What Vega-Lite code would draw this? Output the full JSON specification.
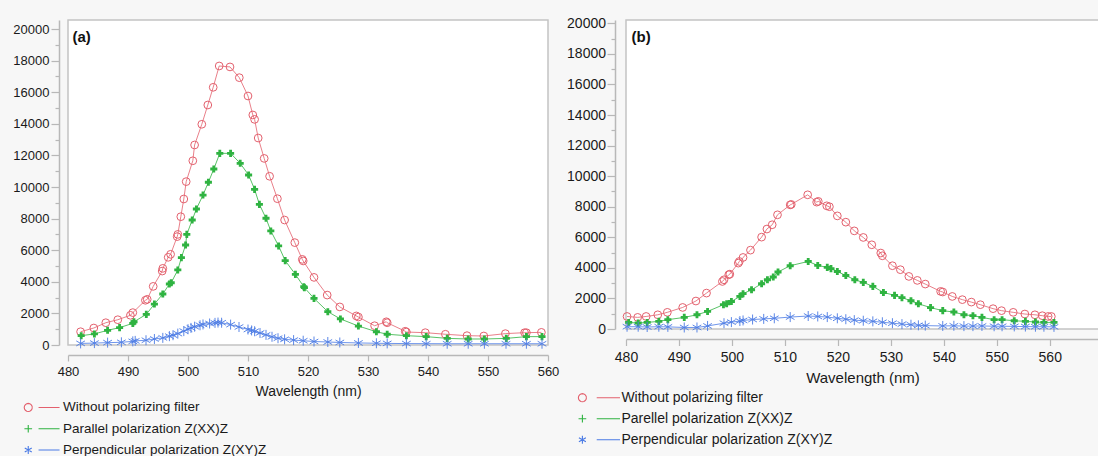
{
  "$schema": "https://vega.github.io/schema/vega-lite/v6.json",
  "background": "#f7f7f7",
  "padding": {"left": 12, "top": 15, "right": 0, "bottom": 0},
  "autosize": {"type": "pad"},
  "config": {
    "font": "Liberation Sans",
    "view": {"fill": "white", "stroke": "#c4c4c4", "strokeWidth": 1.5},
    "axis": {"grid": false, "domainColor": "#b8b8b8", "domainWidth": 1.5, "tickColor": "#b8b8b8", "tickWidth": 1.2, "labelColor": "#1a1a1a", "titleColor": "#1a1a1a", "titleFontWeight": "normal", "labelFont": "Liberation Sans", "titleFont": "Liberation Sans", "labelFlush": false, "labelOverlap": false}
  },
  "spacing": 78,
  "bounds": "flush",
  "resolve": {"scale": {"color": "independent", "shape": "independent", "x": "independent", "y": "independent"}, "legend": {"color": "independent", "shape": "independent"}},
  "datasets": {
    "a": [
      {"s": "Without polarizing filter", "w": 482.1, "i": 840},
      {"s": "Without polarizing filter", "w": 484.3, "i": 1075},
      {"s": "Without polarizing filter", "w": 486.3, "i": 1410},
      {"s": "Without polarizing filter", "w": 488.3, "i": 1600},
      {"s": "Without polarizing filter", "w": 490.4, "i": 1880},
      {"s": "Without polarizing filter", "w": 490.8, "i": 2050},
      {"s": "Without polarizing filter", "w": 492.9, "i": 2830},
      {"s": "Without polarizing filter", "w": 493.2, "i": 2890},
      {"s": "Without polarizing filter", "w": 494.2, "i": 3710},
      {"s": "Without polarizing filter", "w": 495.7, "i": 4680},
      {"s": "Without polarizing filter", "w": 495.8, "i": 4850},
      {"s": "Without polarizing filter", "w": 496.7, "i": 5550},
      {"s": "Without polarizing filter", "w": 497.1, "i": 5740},
      {"s": "Without polarizing filter", "w": 498.2, "i": 6860},
      {"s": "Without polarizing filter", "w": 498.3, "i": 7000},
      {"s": "Without polarizing filter", "w": 498.8, "i": 8120},
      {"s": "Without polarizing filter", "w": 499.3, "i": 9240},
      {"s": "Without polarizing filter", "w": 499.7, "i": 10340},
      {"s": "Without polarizing filter", "w": 500.8, "i": 11660},
      {"s": "Without polarizing filter", "w": 501.1, "i": 12660},
      {"s": "Without polarizing filter", "w": 502.3, "i": 13970},
      {"s": "Without polarizing filter", "w": 503.3, "i": 15190},
      {"s": "Without polarizing filter", "w": 504.2, "i": 16310},
      {"s": "Without polarizing filter", "w": 505.2, "i": 17660},
      {"s": "Without polarizing filter", "w": 507.0, "i": 17600},
      {"s": "Without polarizing filter", "w": 508.55, "i": 16920},
      {"s": "Without polarizing filter", "w": 510.0, "i": 15760},
      {"s": "Without polarizing filter", "w": 510.8, "i": 14560},
      {"s": "Without polarizing filter", "w": 511.1, "i": 14280},
      {"s": "Without polarizing filter", "w": 511.7, "i": 13100},
      {"s": "Without polarizing filter", "w": 512.7, "i": 11810},
      {"s": "Without polarizing filter", "w": 513.6, "i": 10680},
      {"s": "Without polarizing filter", "w": 514.9, "i": 9260},
      {"s": "Without polarizing filter", "w": 516.1, "i": 7910},
      {"s": "Without polarizing filter", "w": 517.8, "i": 6480},
      {"s": "Without polarizing filter", "w": 519.05, "i": 5420},
      {"s": "Without polarizing filter", "w": 519.2, "i": 5320},
      {"s": "Without polarizing filter", "w": 521.0, "i": 4280},
      {"s": "Without polarizing filter", "w": 523.2, "i": 3160},
      {"s": "Without polarizing filter", "w": 525.3, "i": 2410},
      {"s": "Without polarizing filter", "w": 528.05, "i": 1840},
      {"s": "Without polarizing filter", "w": 528.4, "i": 1770},
      {"s": "Without polarizing filter", "w": 531.1, "i": 1220},
      {"s": "Without polarizing filter", "w": 533.05, "i": 1470},
      {"s": "Without polarizing filter", "w": 533.2, "i": 1410},
      {"s": "Without polarizing filter", "w": 536.2, "i": 870},
      {"s": "Without polarizing filter", "w": 536.4, "i": 820},
      {"s": "Without polarizing filter", "w": 539.55, "i": 780},
      {"s": "Without polarizing filter", "w": 542.9, "i": 680},
      {"s": "Without polarizing filter", "w": 546.5, "i": 590},
      {"s": "Without polarizing filter", "w": 549.3, "i": 570},
      {"s": "Without polarizing filter", "w": 552.9, "i": 720},
      {"s": "Without polarizing filter", "w": 556.1, "i": 780},
      {"s": "Without polarizing filter", "w": 556.4, "i": 780},
      {"s": "Without polarizing filter", "w": 558.9, "i": 800},
      {"s": "Parallel polarization Z(XX)Z", "w": 482.2, "i": 590},
      {"s": "Parallel polarization Z(XX)Z", "w": 484.4, "i": 700},
      {"s": "Parallel polarization Z(XX)Z", "w": 486.6, "i": 930},
      {"s": "Parallel polarization Z(XX)Z", "w": 488.6, "i": 1100},
      {"s": "Parallel polarization Z(XX)Z", "w": 490.8, "i": 1370},
      {"s": "Parallel polarization Z(XX)Z", "w": 491.0, "i": 1470},
      {"s": "Parallel polarization Z(XX)Z", "w": 493.05, "i": 1940},
      {"s": "Parallel polarization Z(XX)Z", "w": 494.4, "i": 2590},
      {"s": "Parallel polarization Z(XX)Z", "w": 495.8, "i": 3230},
      {"s": "Parallel polarization Z(XX)Z", "w": 496.9, "i": 3860},
      {"s": "Parallel polarization Z(XX)Z", "w": 497.2, "i": 3940},
      {"s": "Parallel polarization Z(XX)Z", "w": 498.3, "i": 4750},
      {"s": "Parallel polarization Z(XX)Z", "w": 498.9, "i": 5530},
      {"s": "Parallel polarization Z(XX)Z", "w": 499.6, "i": 6330},
      {"s": "Parallel polarization Z(XX)Z", "w": 499.8, "i": 7000},
      {"s": "Parallel polarization Z(XX)Z", "w": 500.7, "i": 7910},
      {"s": "Parallel polarization Z(XX)Z", "w": 501.4, "i": 8610},
      {"s": "Parallel polarization Z(XX)Z", "w": 502.5, "i": 9490},
      {"s": "Parallel polarization Z(XX)Z", "w": 503.4, "i": 10300},
      {"s": "Parallel polarization Z(XX)Z", "w": 504.3, "i": 11140},
      {"s": "Parallel polarization Z(XX)Z", "w": 505.3, "i": 12130},
      {"s": "Parallel polarization Z(XX)Z", "w": 507.1, "i": 12130},
      {"s": "Parallel polarization Z(XX)Z", "w": 508.7, "i": 11500},
      {"s": "Parallel polarization Z(XX)Z", "w": 510.1, "i": 10760},
      {"s": "Parallel polarization Z(XX)Z", "w": 511.1, "i": 9850},
      {"s": "Parallel polarization Z(XX)Z", "w": 511.9, "i": 8900},
      {"s": "Parallel polarization Z(XX)Z", "w": 513.0, "i": 8020},
      {"s": "Parallel polarization Z(XX)Z", "w": 513.8, "i": 7220},
      {"s": "Parallel polarization Z(XX)Z", "w": 515.1, "i": 6270},
      {"s": "Parallel polarization Z(XX)Z", "w": 516.2, "i": 5340},
      {"s": "Parallel polarization Z(XX)Z", "w": 517.9, "i": 4470},
      {"s": "Parallel polarization Z(XX)Z", "w": 519.3, "i": 3690},
      {"s": "Parallel polarization Z(XX)Z", "w": 519.4, "i": 3630},
      {"s": "Parallel polarization Z(XX)Z", "w": 521.0, "i": 2950},
      {"s": "Parallel polarization Z(XX)Z", "w": 523.3, "i": 2110},
      {"s": "Parallel polarization Z(XX)Z", "w": 525.4, "i": 1650},
      {"s": "Parallel polarization Z(XX)Z", "w": 528.4, "i": 1200},
      {"s": "Parallel polarization Z(XX)Z", "w": 531.4, "i": 840},
      {"s": "Parallel polarization Z(XX)Z", "w": 533.2, "i": 680},
      {"s": "Parallel polarization Z(XX)Z", "w": 536.4, "i": 590},
      {"s": "Parallel polarization Z(XX)Z", "w": 539.7, "i": 530},
      {"s": "Parallel polarization Z(XX)Z", "w": 543.2, "i": 420},
      {"s": "Parallel polarization Z(XX)Z", "w": 546.7, "i": 380},
      {"s": "Parallel polarization Z(XX)Z", "w": 549.4, "i": 380},
      {"s": "Parallel polarization Z(XX)Z", "w": 553.05, "i": 420},
      {"s": "Parallel polarization Z(XX)Z", "w": 556.4, "i": 530},
      {"s": "Parallel polarization Z(XX)Z", "w": 559.0, "i": 530},
      {"s": "Perpendicular polarization  Z(XY)Z", "w": 482.1, "i": 100},
      {"s": "Perpendicular polarization  Z(XY)Z", "w": 484.4, "i": 120},
      {"s": "Perpendicular polarization  Z(XY)Z", "w": 486.6, "i": 150},
      {"s": "Perpendicular polarization  Z(XY)Z", "w": 488.9, "i": 170},
      {"s": "Perpendicular polarization  Z(XY)Z", "w": 490.8, "i": 230},
      {"s": "Perpendicular polarization  Z(XY)Z", "w": 491.2, "i": 260},
      {"s": "Perpendicular polarization  Z(XY)Z", "w": 493.0, "i": 300},
      {"s": "Perpendicular polarization  Z(XY)Z", "w": 494.4, "i": 380},
      {"s": "Perpendicular polarization  Z(XY)Z", "w": 495.8, "i": 450},
      {"s": "Perpendicular polarization  Z(XY)Z", "w": 496.9, "i": 560},
      {"s": "Perpendicular polarization  Z(XY)Z", "w": 497.5, "i": 620},
      {"s": "Perpendicular polarization  Z(XY)Z", "w": 498.3, "i": 720},
      {"s": "Perpendicular polarization  Z(XY)Z", "w": 499.3, "i": 880},
      {"s": "Perpendicular polarization  Z(XY)Z", "w": 500.0, "i": 1000},
      {"s": "Perpendicular polarization  Z(XY)Z", "w": 500.5, "i": 1080},
      {"s": "Perpendicular polarization  Z(XY)Z", "w": 501.1, "i": 1160},
      {"s": "Perpendicular polarization  Z(XY)Z", "w": 502.0, "i": 1250},
      {"s": "Perpendicular polarization  Z(XY)Z", "w": 502.5, "i": 1300},
      {"s": "Perpendicular polarization  Z(XY)Z", "w": 503.6, "i": 1360},
      {"s": "Perpendicular polarization  Z(XY)Z", "w": 504.5, "i": 1400},
      {"s": "Perpendicular polarization  Z(XY)Z", "w": 505.0, "i": 1420},
      {"s": "Perpendicular polarization  Z(XY)Z", "w": 505.6, "i": 1410},
      {"s": "Perpendicular polarization  Z(XY)Z", "w": 507.1, "i": 1290},
      {"s": "Perpendicular polarization  Z(XY)Z", "w": 508.5, "i": 1140},
      {"s": "Perpendicular polarization  Z(XY)Z", "w": 510.0, "i": 980},
      {"s": "Perpendicular polarization  Z(XY)Z", "w": 510.6, "i": 920},
      {"s": "Perpendicular polarization  Z(XY)Z", "w": 511.1, "i": 870},
      {"s": "Perpendicular polarization  Z(XY)Z", "w": 512.0, "i": 760},
      {"s": "Perpendicular polarization  Z(XY)Z", "w": 513.0, "i": 640},
      {"s": "Perpendicular polarization  Z(XY)Z", "w": 514.0, "i": 520},
      {"s": "Perpendicular polarization  Z(XY)Z", "w": 515.0, "i": 430},
      {"s": "Perpendicular polarization  Z(XY)Z", "w": 516.1, "i": 360},
      {"s": "Perpendicular polarization  Z(XY)Z", "w": 517.6, "i": 310},
      {"s": "Perpendicular polarization  Z(XY)Z", "w": 519.2, "i": 270},
      {"s": "Perpendicular polarization  Z(XY)Z", "w": 521.0, "i": 220},
      {"s": "Perpendicular polarization  Z(XY)Z", "w": 523.3, "i": 190},
      {"s": "Perpendicular polarization  Z(XY)Z", "w": 525.3, "i": 160},
      {"s": "Perpendicular polarization  Z(XY)Z", "w": 528.4, "i": 130},
      {"s": "Perpendicular polarization  Z(XY)Z", "w": 531.4, "i": 110},
      {"s": "Perpendicular polarization  Z(XY)Z", "w": 533.2, "i": 100},
      {"s": "Perpendicular polarization  Z(XY)Z", "w": 536.4, "i": 90},
      {"s": "Perpendicular polarization  Z(XY)Z", "w": 539.7, "i": 85},
      {"s": "Perpendicular polarization  Z(XY)Z", "w": 543.2, "i": 80},
      {"s": "Perpendicular polarization  Z(XY)Z", "w": 546.7, "i": 80},
      {"s": "Perpendicular polarization  Z(XY)Z", "w": 549.4, "i": 80},
      {"s": "Perpendicular polarization  Z(XY)Z", "w": 553.0, "i": 80},
      {"s": "Perpendicular polarization  Z(XY)Z", "w": 556.4, "i": 80},
      {"s": "Perpendicular polarization  Z(XY)Z", "w": 559.0, "i": 80}
    ],
    "b": [
      {"s": "Without polarizing filter", "w": 480.2, "i": 820},
      {"s": "Without polarizing filter", "w": 482.2, "i": 760},
      {"s": "Without polarizing filter", "w": 483.8, "i": 820},
      {"s": "Without polarizing filter", "w": 486.0, "i": 930},
      {"s": "Without polarizing filter", "w": 487.8, "i": 1090},
      {"s": "Without polarizing filter", "w": 490.7, "i": 1410},
      {"s": "Without polarizing filter", "w": 493.2, "i": 1830},
      {"s": "Without polarizing filter", "w": 495.2, "i": 2350},
      {"s": "Without polarizing filter", "w": 498.2, "i": 3110},
      {"s": "Without polarizing filter", "w": 498.5, "i": 3220},
      {"s": "Without polarizing filter", "w": 499.4, "i": 3550},
      {"s": "Without polarizing filter", "w": 499.6, "i": 3590},
      {"s": "Without polarizing filter", "w": 501.2, "i": 4310},
      {"s": "Without polarizing filter", "w": 501.4, "i": 4420},
      {"s": "Without polarizing filter", "w": 502.1, "i": 4680},
      {"s": "Without polarizing filter", "w": 503.5, "i": 5160},
      {"s": "Without polarizing filter", "w": 505.6, "i": 6010},
      {"s": "Without polarizing filter", "w": 506.6, "i": 6540},
      {"s": "Without polarizing filter", "w": 507.6, "i": 6820},
      {"s": "Without polarizing filter", "w": 508.6, "i": 7470},
      {"s": "Without polarizing filter", "w": 511.0, "i": 8120},
      {"s": "Without polarizing filter", "w": 511.2, "i": 8150},
      {"s": "Without polarizing filter", "w": 514.3, "i": 8780},
      {"s": "Without polarizing filter", "w": 516.0, "i": 8300},
      {"s": "Without polarizing filter", "w": 516.3, "i": 8350},
      {"s": "Without polarizing filter", "w": 517.9, "i": 8060},
      {"s": "Without polarizing filter", "w": 518.4, "i": 8000},
      {"s": "Without polarizing filter", "w": 519.9, "i": 7400},
      {"s": "Without polarizing filter", "w": 521.5, "i": 6990},
      {"s": "Without polarizing filter", "w": 523.1, "i": 6420},
      {"s": "Without polarizing filter", "w": 524.8, "i": 5990},
      {"s": "Without polarizing filter", "w": 526.4, "i": 5510},
      {"s": "Without polarizing filter", "w": 528.1, "i": 4970},
      {"s": "Without polarizing filter", "w": 528.4, "i": 4790},
      {"s": "Without polarizing filter", "w": 530.3, "i": 4140},
      {"s": "Without polarizing filter", "w": 531.8, "i": 3880},
      {"s": "Without polarizing filter", "w": 533.4, "i": 3440},
      {"s": "Without polarizing filter", "w": 535.0, "i": 3180},
      {"s": "Without polarizing filter", "w": 536.5, "i": 2940},
      {"s": "Without polarizing filter", "w": 539.4, "i": 2460},
      {"s": "Without polarizing filter", "w": 539.8, "i": 2420},
      {"s": "Without polarizing filter", "w": 541.6, "i": 2130},
      {"s": "Without polarizing filter", "w": 543.5, "i": 1920},
      {"s": "Without polarizing filter", "w": 545.2, "i": 1760},
      {"s": "Without polarizing filter", "w": 546.9, "i": 1590},
      {"s": "Without polarizing filter", "w": 549.3, "i": 1330},
      {"s": "Without polarizing filter", "w": 550.9, "i": 1200},
      {"s": "Without polarizing filter", "w": 553.1, "i": 1090},
      {"s": "Without polarizing filter", "w": 555.3, "i": 980},
      {"s": "Without polarizing filter", "w": 557.2, "i": 930},
      {"s": "Without polarizing filter", "w": 558.6, "i": 870},
      {"s": "Without polarizing filter", "w": 559.7, "i": 820},
      {"s": "Without polarizing filter", "w": 560.3, "i": 820},
      {"s": "Parellel polarization Z(XX)Z", "w": 480.5, "i": 430},
      {"s": "Parellel polarization Z(XX)Z", "w": 482.3, "i": 390},
      {"s": "Parellel polarization Z(XX)Z", "w": 484.0, "i": 430},
      {"s": "Parellel polarization Z(XX)Z", "w": 486.2, "i": 500},
      {"s": "Parellel polarization Z(XX)Z", "w": 487.9, "i": 610},
      {"s": "Parellel polarization Z(XX)Z", "w": 491.0, "i": 760},
      {"s": "Parellel polarization Z(XX)Z", "w": 493.4, "i": 930},
      {"s": "Parellel polarization Z(XX)Z", "w": 495.4, "i": 1150},
      {"s": "Parellel polarization Z(XX)Z", "w": 498.4, "i": 1590},
      {"s": "Parellel polarization Z(XX)Z", "w": 499.0, "i": 1650},
      {"s": "Parellel polarization Z(XX)Z", "w": 499.9, "i": 1800},
      {"s": "Parellel polarization Z(XX)Z", "w": 501.5, "i": 2130},
      {"s": "Parellel polarization Z(XX)Z", "w": 502.1, "i": 2310},
      {"s": "Parellel polarization Z(XX)Z", "w": 503.7, "i": 2570},
      {"s": "Parellel polarization Z(XX)Z", "w": 505.6, "i": 2960},
      {"s": "Parellel polarization Z(XX)Z", "w": 506.7, "i": 3220},
      {"s": "Parellel polarization Z(XX)Z", "w": 507.8, "i": 3400},
      {"s": "Parellel polarization Z(XX)Z", "w": 508.7, "i": 3730},
      {"s": "Parellel polarization Z(XX)Z", "w": 511.0, "i": 4140},
      {"s": "Parellel polarization Z(XX)Z", "w": 514.4, "i": 4420},
      {"s": "Parellel polarization Z(XX)Z", "w": 516.2, "i": 4160},
      {"s": "Parellel polarization Z(XX)Z", "w": 518.0, "i": 4030},
      {"s": "Parellel polarization Z(XX)Z", "w": 518.7, "i": 3950},
      {"s": "Parellel polarization Z(XX)Z", "w": 519.9, "i": 3760},
      {"s": "Parellel polarization Z(XX)Z", "w": 521.5, "i": 3500},
      {"s": "Parellel polarization Z(XX)Z", "w": 523.2, "i": 3220},
      {"s": "Parellel polarization Z(XX)Z", "w": 524.8, "i": 3050},
      {"s": "Parellel polarization Z(XX)Z", "w": 526.6, "i": 2790},
      {"s": "Parellel polarization Z(XX)Z", "w": 528.6, "i": 2390},
      {"s": "Parellel polarization Z(XX)Z", "w": 530.7, "i": 2200},
      {"s": "Parellel polarization Z(XX)Z", "w": 532.1, "i": 2050},
      {"s": "Parellel polarization Z(XX)Z", "w": 533.8, "i": 1850},
      {"s": "Parellel polarization Z(XX)Z", "w": 535.2, "i": 1650},
      {"s": "Parellel polarization Z(XX)Z", "w": 537.5, "i": 1400},
      {"s": "Parellel polarization Z(XX)Z", "w": 539.8, "i": 1200},
      {"s": "Parellel polarization Z(XX)Z", "w": 541.9, "i": 1110},
      {"s": "Parellel polarization Z(XX)Z", "w": 543.8, "i": 930},
      {"s": "Parellel polarization Z(XX)Z", "w": 545.5, "i": 870},
      {"s": "Parellel polarization Z(XX)Z", "w": 547.2, "i": 760},
      {"s": "Parellel polarization Z(XX)Z", "w": 549.5, "i": 610},
      {"s": "Parellel polarization Z(XX)Z", "w": 551.0, "i": 610},
      {"s": "Parellel polarization Z(XX)Z", "w": 553.3, "i": 540},
      {"s": "Parellel polarization Z(XX)Z", "w": 555.4, "i": 500},
      {"s": "Parellel polarization Z(XX)Z", "w": 557.3, "i": 460},
      {"s": "Parellel polarization Z(XX)Z", "w": 558.9, "i": 430},
      {"s": "Parellel polarization Z(XX)Z", "w": 560.8, "i": 430},
      {"s": "Perpendicular polarization Z(XY)Z", "w": 480.2, "i": 150},
      {"s": "Perpendicular polarization Z(XY)Z", "w": 482.3, "i": 150},
      {"s": "Perpendicular polarization Z(XY)Z", "w": 484.0, "i": 130},
      {"s": "Perpendicular polarization Z(XY)Z", "w": 486.2, "i": 150},
      {"s": "Perpendicular polarization Z(XY)Z", "w": 487.9, "i": 140},
      {"s": "Perpendicular polarization Z(XY)Z", "w": 491.0, "i": 100},
      {"s": "Perpendicular polarization Z(XY)Z", "w": 493.4, "i": 100},
      {"s": "Perpendicular polarization Z(XY)Z", "w": 495.4, "i": 200},
      {"s": "Perpendicular polarization Z(XY)Z", "w": 498.5, "i": 380},
      {"s": "Perpendicular polarization Z(XY)Z", "w": 499.9, "i": 450},
      {"s": "Perpendicular polarization Z(XY)Z", "w": 501.5, "i": 520},
      {"s": "Perpendicular polarization Z(XY)Z", "w": 502.1, "i": 560},
      {"s": "Perpendicular polarization Z(XY)Z", "w": 503.9, "i": 620},
      {"s": "Perpendicular polarization Z(XY)Z", "w": 506.0, "i": 660},
      {"s": "Perpendicular polarization Z(XY)Z", "w": 508.0, "i": 700},
      {"s": "Perpendicular polarization Z(XY)Z", "w": 511.0, "i": 780},
      {"s": "Perpendicular polarization Z(XY)Z", "w": 514.4, "i": 850},
      {"s": "Perpendicular polarization Z(XY)Z", "w": 516.2, "i": 820},
      {"s": "Perpendicular polarization Z(XY)Z", "w": 518.0, "i": 780},
      {"s": "Perpendicular polarization Z(XY)Z", "w": 519.9, "i": 700},
      {"s": "Perpendicular polarization Z(XY)Z", "w": 521.5, "i": 640},
      {"s": "Perpendicular polarization Z(XY)Z", "w": 523.1, "i": 580},
      {"s": "Perpendicular polarization Z(XY)Z", "w": 524.8, "i": 540},
      {"s": "Perpendicular polarization Z(XY)Z", "w": 526.6, "i": 500},
      {"s": "Perpendicular polarization Z(XY)Z", "w": 528.4, "i": 440},
      {"s": "Perpendicular polarization Z(XY)Z", "w": 530.3, "i": 380},
      {"s": "Perpendicular polarization Z(XY)Z", "w": 532.1, "i": 320},
      {"s": "Perpendicular polarization Z(XY)Z", "w": 533.8, "i": 280},
      {"s": "Perpendicular polarization Z(XY)Z", "w": 535.2, "i": 240},
      {"s": "Perpendicular polarization Z(XY)Z", "w": 536.5, "i": 220},
      {"s": "Perpendicular polarization Z(XY)Z", "w": 539.8, "i": 200},
      {"s": "Perpendicular polarization Z(XY)Z", "w": 541.9, "i": 210},
      {"s": "Perpendicular polarization Z(XY)Z", "w": 543.8, "i": 190},
      {"s": "Perpendicular polarization Z(XY)Z", "w": 545.5, "i": 190},
      {"s": "Perpendicular polarization Z(XY)Z", "w": 547.2, "i": 200},
      {"s": "Perpendicular polarization Z(XY)Z", "w": 549.5, "i": 180},
      {"s": "Perpendicular polarization Z(XY)Z", "w": 551.0, "i": 180},
      {"s": "Perpendicular polarization Z(XY)Z", "w": 553.3, "i": 170},
      {"s": "Perpendicular polarization Z(XY)Z", "w": 555.4, "i": 160},
      {"s": "Perpendicular polarization Z(XY)Z", "w": 557.3, "i": 150},
      {"s": "Perpendicular polarization Z(XY)Z", "w": 558.9, "i": 150},
      {"s": "Perpendicular polarization Z(XY)Z", "w": 560.8, "i": 140}
    ]
  },
  "hconcat": [
    {
      "width": 480,
      "height": 325,
      "data": {"name": "a"},
      "encoding": {
        "x": {"field": "w", "type": "quantitative", "scale": {"domain": [480, 560], "nice": false, "zero": false},
          "axis": {"values": [480, 490, 500, 510, 520, 530, 540, 550, 560], "format": "d", "offset": 10, "tickSize": 6, "labelPadding": 4, "labelFontSize": 13, "title": "Wavelength (nm)", "titleFontSize": 14, "titlePadding": 6}},
        "y": {"field": "i", "type": "quantitative", "scale": {"domain": [0, 20570], "nice": false},
          "axis": {"values": [0, 1000, 2000, 3000, 4000, 5000, 6000, 7000, 8000, 9000, 10000, 11000, 12000, 13000, 14000, 15000, 16000, 17000, 18000, 19000, 20000], "format": "d", "labelExpr": "datum.value % 2000 === 0 ? datum.label : ''", "tickSize": {"condition": {"test": "datum.value % 2000 !== 0", "value": 4}, "value": 8}, "offset": 9, "labelPadding": 2, "labelFontSize": 13,
            "title": "(a)", "titleAngle": 0, "titleAlign": "left", "titleBaseline": "alphabetic", "titleX": 13, "titleY": 21, "titleFontSize": 15, "titleFontWeight": "bold", "titleColor": "#111111"}},
        "color": {"field": "s", "type": "nominal", "scale": {"domain": ["Without polarizing filter", "Parallel polarization Z(XX)Z", "Perpendicular polarization  Z(XY)Z"], "range": ["#e3606d", "#2fb341", "#4b7be5"]}, "legend": null}
      },
      "layer": [
        {
          "mark": {"type": "point", "filled": false, "size": 49, "strokeWidth": 1.1, "opacity": 0},
          "encoding": {
            "color": {"field": "s", "type": "nominal", "scale": {"domain": ["Without polarizing filter", "Parallel polarization Z(XX)Z", "Perpendicular polarization  Z(XY)Z"], "range": ["#e3606d", "#2fb341", "#4b7be5"]},
              "legend": {"title": null, "orient": "none", "legendX": -46.5, "legendY": 380.7, "padding": 0, "labelFontSize": 13.5, "labelColor": "#1a1a1a", "labelLimit": 400, "labelOffset": 28, "rowPadding": 6.3, "symbolSize": 49, "symbolStrokeWidth": 1.1, "symbolOffset": 0, "symbolOpacity": 1, "symbolFillColor": "transparent"}},
            "shape": {"field": "s", "type": "nominal", "scale": {"domain": ["Without polarizing filter", "Parallel polarization Z(XX)Z", "Perpendicular polarization  Z(XY)Z"], "range": ["M1.15,0L1.063,0.44L0.813,0.813L0.44,1.063L0,1.15L-0.44,1.063L-0.813,0.813L-1.063,0.44L-1.15,0L-1.063,-0.44L-0.813,-0.813L-0.44,-1.063L0,-1.15L0.44,-1.063L0.813,-0.813L1.063,-0.44L1.15,0M2.94,0L8.94,0", "M-1.1,0L1.1,0M0,-1.1L0,1.1M2.94,0L8.94,0", "M0,-1.15L0,1.15M-1,-0.58L1,0.58M-1,0.58L1,-0.58M2.94,0L8.94,0"]},
              "legend": {"title": null, "orient": "none", "legendX": -46.5, "legendY": 380.7, "padding": 0, "labelFontSize": 13.5, "labelColor": "#1a1a1a", "labelLimit": 400, "labelOffset": 28, "rowPadding": 6.3, "symbolSize": 49, "symbolStrokeWidth": 1.1, "symbolOffset": 0, "symbolOpacity": 1, "symbolFillColor": "transparent"}}
          }
        },
        {
          "mark": {"type": "line", "strokeWidth": 1, "opacity": 0.8}
        },
        {
          "transform": [{"filter": "datum.s === 'Without polarizing filter'"}],
          "mark": {"type": "point", "shape": "circle", "filled": false, "size": 60, "strokeWidth": 1, "opacity": 1}
        },
        {
          "transform": [{"filter": "datum.s === 'Parallel polarization Z(XX)Z'"}],
          "mark": {"type": "point", "shape": "cross", "filled": true, "size": 50, "opacity": 1},
          "encoding": {"color": {"value": "#2fb341"}}
        },
        {
          "transform": [{"filter": "datum.s === 'Perpendicular polarization  Z(XY)Z'"}],
          "mark": {"type": "point", "shape": "M0,-1L0,1M-0.866,-0.5L0.866,0.5M-0.866,0.5L0.866,-0.5", "filled": false, "size": 100, "strokeWidth": 1, "opacity": 0.9}
        }
      ]
    },
    {
      "width": 473,
      "height": 309,
      "data": {"name": "b"},
      "encoding": {
        "x": {"field": "w", "type": "quantitative", "scale": {"domain": [480, 569.3], "nice": false, "zero": false},
          "axis": {"values": [480, 490, 500, 510, 520, 530, 540, 550, 560], "format": "d", "offset": 10, "tickSize": 6.5, "labelPadding": 5, "labelFontSize": 14, "title": "Wavelength (nm)", "titleFontSize": 15, "titlePadding": 6}},
        "y": {"field": "i", "type": "quantitative", "scale": {"domain": [0, 20216], "nice": false},
          "axis": {"values": [0, 1000, 2000, 3000, 4000, 5000, 6000, 7000, 8000, 9000, 10000, 11000, 12000, 13000, 14000, 15000, 16000, 17000, 18000, 19000, 20000], "format": "d", "labelExpr": "datum.value % 2000 === 0 ? datum.label : ''", "tickSize": {"condition": {"test": "datum.value % 2000 !== 0", "value": 4}, "value": 8}, "offset": 11, "labelPadding": 1.5, "labelFontSize": 14,
            "title": "(b)", "titleAngle": 0, "titleAlign": "left", "titleBaseline": "alphabetic", "titleX": 16, "titleY": 21, "titleFontSize": 15, "titleFontWeight": "bold", "titleColor": "#111111"}},
        "color": {"field": "s", "type": "nominal", "scale": {"domain": ["Without polarizing filter", "Parellel polarization Z(XX)Z", "Perpendicular polarization Z(XY)Z"], "range": ["#e3606d", "#2fb341", "#4b7be5"]}, "legend": null}
      },
      "layer": [
        {
          "mark": {"type": "point", "filled": false, "size": 49, "strokeWidth": 1.1, "opacity": 0},
          "encoding": {
            "color": {"field": "s", "type": "nominal", "scale": {"domain": ["Without polarizing filter", "Parellel polarization Z(XX)Z", "Perpendicular polarization Z(XY)Z"], "range": ["#e3606d", "#2fb341", "#4b7be5"]},
              "legend": {"title": null, "orient": "none", "legendX": -50.6, "legendY": 370.7, "padding": 0, "labelFontSize": 14, "labelColor": "#1a1a1a", "labelLimit": 400, "labelOffset": 32, "rowPadding": 7, "symbolSize": 49, "symbolStrokeWidth": 1.1, "symbolOffset": 0, "symbolOpacity": 1, "symbolFillColor": "transparent"}},
            "shape": {"field": "s", "type": "nominal", "scale": {"domain": ["Without polarizing filter", "Parellel polarization Z(XX)Z", "Perpendicular polarization Z(XY)Z"], "range": ["M1.15,0L1.063,0.44L0.813,0.813L0.44,1.063L0,1.15L-0.44,1.063L-0.813,0.813L-1.063,0.44L-1.15,0L-1.063,-0.44L-0.813,-0.813L-0.44,-1.063L0,-1.15L0.44,-1.063L0.813,-0.813L1.063,-0.44L1.15,0M4.09,0L10.74,0", "M-1.1,0L1.1,0M0,-1.1L0,1.1M4.09,0L10.74,0", "M0,-1.15L0,1.15M-1,-0.58L1,0.58M-1,0.58L1,-0.58M4.09,0L10.74,0"]},
              "legend": {"title": null, "orient": "none", "legendX": -50.6, "legendY": 370.7, "padding": 0, "labelFontSize": 14, "labelColor": "#1a1a1a", "labelLimit": 400, "labelOffset": 32, "rowPadding": 7, "symbolSize": 49, "symbolStrokeWidth": 1.1, "symbolOffset": 0, "symbolOpacity": 1, "symbolFillColor": "transparent"}}
          }
        },
        {
          "mark": {"type": "line", "strokeWidth": 1, "opacity": 0.8}
        },
        {
          "transform": [{"filter": "datum.s === 'Without polarizing filter'"}],
          "mark": {"type": "point", "shape": "circle", "filled": false, "size": 60, "strokeWidth": 1, "opacity": 1}
        },
        {
          "transform": [{"filter": "datum.s === 'Parellel polarization Z(XX)Z'"}],
          "mark": {"type": "point", "shape": "cross", "filled": true, "size": 50, "opacity": 1},
          "encoding": {"color": {"value": "#2fb341"}}
        },
        {
          "transform": [{"filter": "datum.s === 'Perpendicular polarization Z(XY)Z'"}],
          "mark": {"type": "point", "shape": "M0,-1L0,1M-0.866,-0.5L0.866,0.5M-0.866,0.5L0.866,-0.5", "filled": false, "size": 100, "strokeWidth": 1, "opacity": 0.9}
        }
      ]
    }
  ]
}
